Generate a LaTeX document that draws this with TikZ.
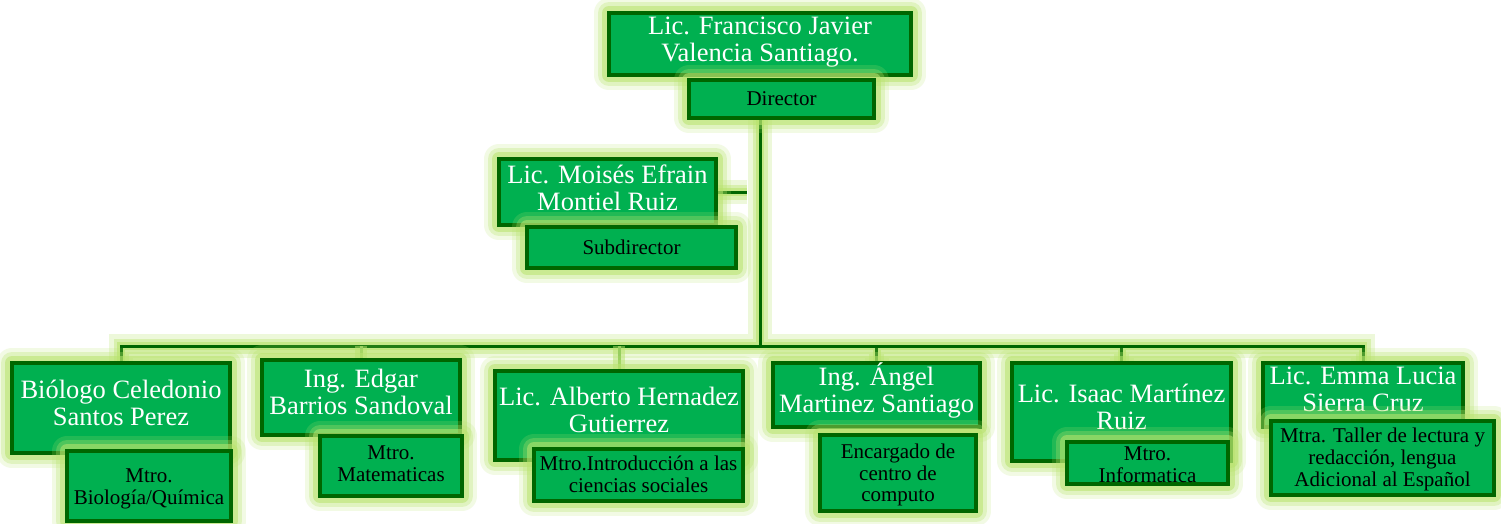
\documentclass[tikz,border=0pt]{standalone}
\usepackage{fontspec}
\setmainfont{Liberation Serif}
\usetikzlibrary{backgrounds}
\definecolor{boxfill}{RGB}{0,176,80}
\definecolor{boxline}{RGB}{0,102,0}
\definecolor{glowc}{RGB}{185,228,110}
\definecolor{palec}{RGB}{150,205,95}
\begin{document}
\begin{tikzpicture}[x=1pt,y=-1pt,
  box/.style={rectangle, draw=boxline, line width=4pt, fill=boxfill, inner sep=0pt,
    preaction={draw=glowc, line width=30pt, draw opacity=0.18, line join=round},
    preaction={draw=glowc, line width=22pt, draw opacity=0.3, line join=round},
    preaction={draw=glowc, line width=14pt, draw opacity=0.55, line join=round}},
  nametext/.style={text=white, align=center, font=\fontsize{26.5}{27}\selectfont, inner sep=0pt},
  labeltext/.style={text=black, align=center, font=\fontsize{21}{21.7}\selectfont, inner sep=0pt},
  conn/.style={draw=boxline, line width=3pt,
    preaction={draw=glowc, line width=24pt, draw opacity=0.25},
    preaction={draw=glowc, line width=15pt, draw opacity=0.4},
    preaction={draw=glowc, line width=8pt, draw opacity=0.6}},
  paleconn/.style={draw=palec, line width=3pt,
    preaction={draw=glowc, line width=12pt, draw opacity=0.5}},
]
\useasboundingbox (0,0) rectangle (1501,524);
\begin{scope}[on background layer]
  \fill[white] (0,0) rectangle (1501,524);
\end{scope}

% Director
\node[box, minimum width=302pt, minimum height=62pt] (top) at (760,44) {};
\node[nametext] (topt) at ([yshift=1.5pt]top.center) {Lic. Francisco Javier\\Valencia Santiago.};
\node[box, minimum width=185pt, minimum height=38pt] (dir) at (781.5,99) {};
\node[labeltext] (dirt) at (dir.center) {Director};

% Subdirector
\node[box, minimum width=217pt, minimum height=66pt] (subn) at (607.5,192) {};
\node[nametext] (subnt) at ([yshift=4pt]subn.center) {Lic. Mois\'es Efrain\\Montiel Ruiz};
\node[box, minimum width=209pt, minimum height=41pt] (subl) at (631.5,247.5) {};
\node[labeltext] (sublt) at (subl.center) {Subdirector};

% Bottom row
\node[box, minimum width=218pt, minimum height=90pt] (bion) at (121,408) {};
\node[nametext] (biont) at ([yshift=5.5pt]bion.center) {Bi\'ologo Celedonio\\Santos Perez};
\node[box, minimum width=164pt, minimum height=70pt] (biol) at (149,486) {};
\node[labeltext] (biolt) at ([yshift=-3pt]biol.center) {Mtro.\\Biolog\'ia/Qu\'imica};

\node[box, minimum width=198pt, minimum height=75pt] (edgn) at (361,397.5) {};
\node[nametext] (edgnt) at ([yshift=6pt]edgn.center) {Ing. Edgar\\Barrios Sandoval};
\node[box, minimum width=142pt, minimum height=60pt] (edgl) at (391,466) {};
\node[labeltext] (edglt) at ([yshift=2pt]edgl.center) {Mtro.\\Matematicas};

\node[box, minimum width=248pt, minimum height=89pt] (albn) at (619,415.5) {};
\node[nametext] (albnt) at ([yshift=6pt]albn.center) {Lic. Alberto Hernadez\\Gutierrez};
\node[box, minimum width=209pt, minimum height=52pt] (albl) at (638.5,475) {};
\node[labeltext] (alblt) at ([yshift=1pt]albl.center) {Mtro.Introducci\'on a las\\ciencias sociales};

\node[box, minimum width=207pt, minimum height=64pt] (angn) at (876.5,395) {};
\node[nametext] (angnt) at ([yshift=5pt]angn.center) {Ing. \'Angel\\Martinez Santiago};
\node[box, minimum width=156pt, minimum height=76pt] (angl) at (898,473) {};
\node[labeltext] (anglt) at ([yshift=-2pt]angl.center) {Encargado de\\centro de\\computo};

\node[box, minimum width=219pt, minimum height=98pt] (isan) at (1121.5,412) {};
\node[nametext] (isant) at ([yshift=5.5pt]isan.center) {Lic. Isaac Mart\'inez\\Ruiz};
\node[box, minimum width=161pt, minimum height=42pt] (isal) at (1147.5,463) {};
\node[labeltext] (isalt) at ([yshift=-2pt]isal.center) {Mtro.\\Informatica};

\node[box, minimum width=200pt, minimum height=64pt] (eman) at (1363,395) {};
\node[nametext] (emant) at ([yshift=5.5pt]eman.center) {Lic. Emma Lucia\\Sierra Cruz};
\node[box, minimum width=223pt, minimum height=74pt] (emal) at (1382.5,458) {};
\node[labeltext] (emalt) at ([yshift=-1.5pt]emal.center) {Mtra. Taller de lectura y\\redacci\'on, lengua\\Adicional al Espa\~nol};

% Connectors
\coordinate (busy) at (0,346);
\begin{scope}[on background layer]
  \draw[conn] (top.south |- dir.south) -- (top.south |- busy)
    (bion.north) -- (bion.north |- busy) -- (eman.north |- busy) -- (eman.north)
    (angn.north |- busy) -- (angn.north)
    (isan.north |- busy) -- (isan.north);
  \draw[paleconn] (edgn.north |- busy) -- (edgn.north)
    (albn.north |- busy) -- (albn.north);
  \draw[conn, shorten >=13pt] (subn.east) -- (subn.east -| top.south);
\end{scope}
\end{tikzpicture}
\end{document}
